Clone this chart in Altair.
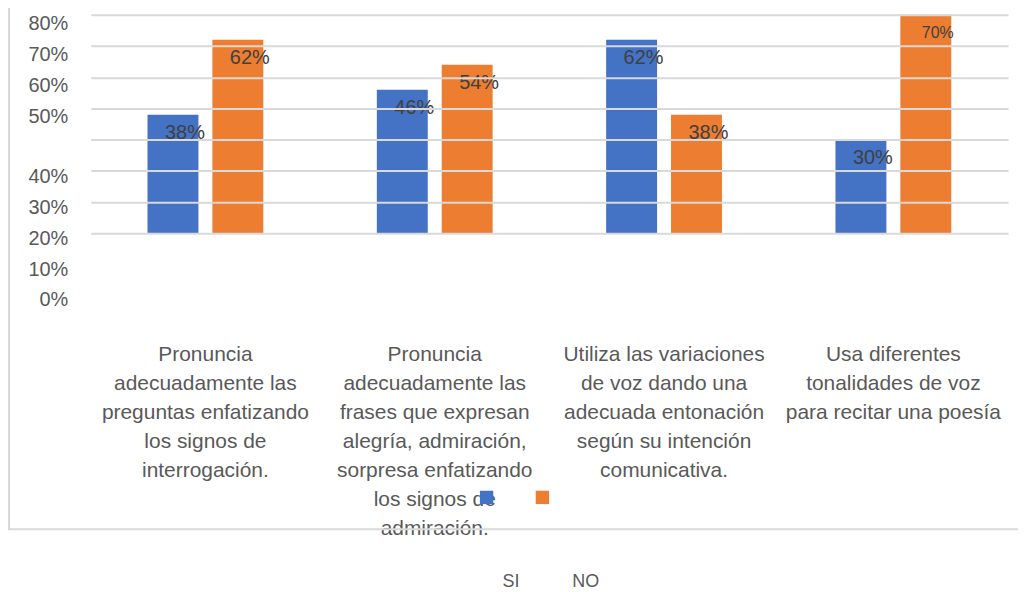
import json
import altair as alt
import pandas as pd

categorias = [
    "Pronuncia adecuadamente las preguntas enfatizando los signos de interrogación.",
    "Pronuncia adecuadamente las frases que expresan alegría, admiración, sorpresa enfatizando los signos de admiración.",
    "Utiliza las variaciones de voz dando una adecuada entonación según su intención comunicativa.",
    "Usa diferentes tonalidades de voz para recitar una poesía",
]
lineas = [
    ["Pronuncia", "adecuadamente las", "preguntas enfatizando", "los signos de", "interrogación."],
    ["Pronuncia", "adecuadamente las", "frases que expresan", "alegría, admiración,",
     "sorpresa enfatizando", "los signos de", "admiración."],
    ["Utiliza las variaciones", "de voz dando una", "adecuada entonación", "según su intención",
     "comunicativa."],
    ["Usa diferentes", "tonalidades de voz", "para recitar una poesía"],
]
series = ["SI", "NO"]
valores_si = [38, 46, 62, 30]
valores_no = [62, 54, 38, 70]
ticks_eje = [0, 10, 20, 30, 40, 50, 60, 70, 80]
ticks_grid = [0, 10, 20, 30, 40, 50, 60, 70]
colores = ["#4472C4", "#ED7D31"]

filas = []
for c, a, b in zip(categorias, valores_si, valores_no):
    filas.append({"categoria": c, "serie": "SI", "valor": a})
    filas.append({"categoria": c, "serie": "NO", "valor": b})
df = pd.DataFrame(filas)

FONT = "Liberation Sans"
TXT = "#595959"

expr = ""
for c, l in zip(categorias, lineas):
    expr += f"datum.value == {json.dumps(c, ensure_ascii=False)} ? {json.dumps(l, ensure_ascii=False)} : "
expr += "datum.label"

dom_barras = [-21.4, 70]
series_min = [s.lower() for s in series]

x_enc = alt.X(
    "categoria:N", sort=categorias,
    scale=alt.Scale(paddingInner=0.495, paddingOuter=0.2475),
    axis=alt.Axis(title=None, labelExpr=expr, labelAngle=0, labelBaseline="top",
                  labelPadding=44, labelLineHeight=29, labelFontSize=21, labelColor=TXT,
                  labelFont=FONT, ticks=False, domain=False, labelLimit=400),
)
xo_enc = alt.XOffset("serie:N", sort=series, scale=alt.Scale(paddingInner=0.215, paddingOuter=0))

base = alt.Chart(df)

# left axis labels + legend texts (SI / NO), which sit below the legend squares
eje = base.transform_calculate(leyenda="lower(datum.serie)").mark_point(opacity=0).encode(
    y=alt.Y("valor:Q", scale=alt.Scale(domain=[0, 92.6], nice=False, zero=False),
            axis=alt.Axis(orient="left", values=ticks_eje, labelExpr="datum.value + '%'",
                          title=None, grid=False, ticks=False, domain=False,
                          labelOffset={"condition": {"test": "datum.value >= 50", "value": -30},
                                       "value": 0},
                          labelFontSize=20, labelPadding=23, labelColor=TXT, labelFont=FONT)),
    stroke=alt.Stroke("leyenda:N", sort=series_min,
                      scale=alt.Scale(domain=series_min, range=colores),
                      legend=alt.Legend(title=None, orient="none", legendX=389, legendY=560,
                                        direction="horizontal", symbolType="square",
                                        symbolSize=180, symbolOpacity=0, symbolStrokeWidth=0,
                                        labelExpr="upper(datum.label)",
                                        labelFontSize=18, labelColor=TXT, labelFont=FONT,
                                        labelOffset=6, columnPadding=28)),
)

barras = base.mark_bar().encode(
    x=x_enc,
    xOffset=xo_enc,
    y=alt.Y("valor:Q", scale=alt.Scale(domain=dom_barras, nice=False, zero=False),
            axis=alt.Axis(orient="right", values=ticks_grid, labels=False, ticks=False,
                          domain=False, grid=True, gridColor="#d9d9d9", gridWidth=2,
                          title=None, zindex=1)),
    y2=alt.datum(0),
    color=alt.Color("serie:N", sort=series,
                    scale=alt.Scale(domain=series, range=colores),
                    legend=alt.Legend(title=None, orient="none", legendX=388, legendY=475,
                                      direction="horizontal", symbolType="square",
                                      symbolSize=180, symbolStrokeWidth=0,
                                      labelOpacity=0,
                                      labelFontSize=18, labelFont=FONT,
                                      labelOffset=6, columnPadding=14)),
)

texto = base.transform_calculate(etiqueta="datum.valor + '%'").mark_text(
    dx=12, dy=18, baseline="middle", align="center", color="#404040", font=FONT
).encode(
    x=alt.X("categoria:N", sort=categorias),
    xOffset=xo_enc,
    y=alt.Y("valor:Q", scale=alt.Scale(domain=dom_barras, nice=False, zero=False), axis=None),
    text="etiqueta:N",
    size=alt.condition(alt.datum.valor > 65, alt.value(16), alt.value(20)),
)

marco = pd.DataFrame({"a": [0]})
linea_v = alt.Chart(marco).mark_rule(color="#d9d9d9", strokeWidth=2).encode(
    x=alt.value(-82), y=alt.value(-14), y2=alt.value(516))
linea_h = alt.Chart(marco).mark_rule(color="#d9d9d9", strokeWidth=2).encode(
    x=alt.value(-86), x2=alt.value(935), y=alt.value(516))

chart = alt.layer(eje, barras, texto, linea_v, linea_h).resolve_scale(
    y="independent"
).properties(
    width=920, height=286,
    autosize=alt.AutoSizeParams(type="none"),
    padding={"left": 83, "top": 6, "right": 10, "bottom": 292},
).configure_view(stroke=None)

chart.save("out.html", embed_options={"renderer": "svg", "actions": False})
